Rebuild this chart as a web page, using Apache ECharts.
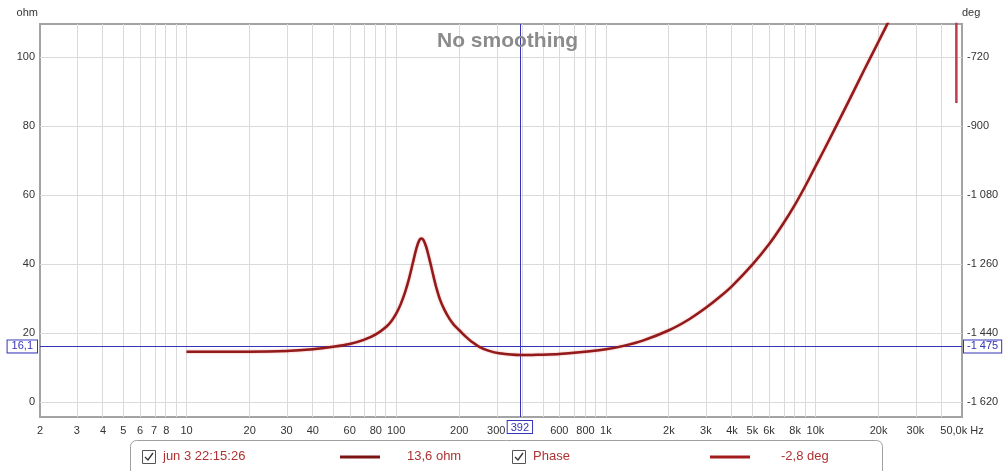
<!DOCTYPE html>
<html>
<head>
<meta charset="utf-8">
<script src="https://cdn.jsdelivr.net/npm/echarts@6/dist/echarts.min.js"></script>
<style>
  html, body { margin: 0; padding: 0; background: #fff; }
  #chart { width: 1008px; height: 471px; }
</style>
</head>
<body>
<div id="chart"></div>
<script>
// impedance sweep (Hz / ohm)
var freqHz = [10, 15, 20, 30, 40, 50, 60, 70, 80, 90, 95, 100, 105, 110, 115, 120, 125, 129, 132, 135, 139, 143, 147, 151, 155, 162, 170, 180, 189, 200, 216, 230, 249, 275, 310, 392, 481, 600, 750, 1000, 1200, 1500, 2000, 2500, 3000, 3500, 4000, 5000, 6000, 7000, 8000, 9000, 10000, 11000, 14000, 17000, 20000, 21500, 23000];
var ohm = [14.6, 14.6, 14.6, 14.8, 15.3, 16.0, 16.8, 18.0, 19.6, 21.9, 23.5, 25.6, 28.3, 31.6, 35.6, 40.2, 44.6, 46.9, 47.4, 46.9, 45.0, 42.2, 39.2, 36.2, 33.4, 29.6, 26.7, 24.0, 22.3, 20.8, 18.8, 17.4, 16.0, 14.9, 14.1, 13.6, 13.7, 13.9, 14.4, 15.3, 16.2, 17.8, 20.8, 24.0, 27.3, 30.5, 33.6, 39.8, 45.7, 51.6, 57.3, 62.9, 68.3, 73.1, 85.7, 96.0, 104.5, 108.3, 111.9];

// phase trace only shows as a wrap segment at the far right
var phaseHz = [47000, 47000];
var phaseDeg = [-560, -840];

// axes
var ohmTicks = [0, 20, 40, 60, 80, 100];
var degTicks = [-1620, -1440, -1260, -1080, -900, -720];
var labelHz = [2, 3, 4, 5, 6, 7, 8, 10, 20, 30, 40, 60, 80, 100, 200, 300, 600, 800, 1000, 2000, 3000, 4000, 5000, 6000, 8000, 10000, 20000, 30000, 50000];
var labelText = ['2', '3', '4', '5', '6', '7', '8', '10', '20', '30', '40', '60', '80', '100', '200', '300', '600', '800', '1k', '2k', '3k', '4k', '5k', '6k', '8k', '10k', '20k', '30k', '50,0k Hz'];
var gridHz = [];
[1, 10, 100, 1000, 10000].forEach(function (d) {
  for (var m = 1; m <= 9; m++) {
    var f = m * d;
    if (f > 2 && f < 50000) gridHz.push(f);
  }
});

// cursor
var cursorHz = 392, cursorOhm = 16.1, cursorDeg = -1475;

var ohmMin = -4.348, ohmMax = 109.565;
var degMin = -1620 + 9 * ohmMin, degMax = -1620 + 9 * ohmMax;

var font = "'Liberation Sans', Arial, sans-serif";
var blue = '#3434b8';

function lg(f) { return Math.log10(f); }

function fmtDeg(v) {
  v = Math.round(v);
  var s = String(Math.abs(v));
  if (s.length > 3) s = s.slice(0, s.length - 3) + ' ' + s.slice(-3);
  return (v < 0 ? '-' : '') + s;
}

var cursorLabel = {
  show: true,
  color: blue,
  backgroundColor: '#fff',
  borderColor: blue,
  borderWidth: 1,
  padding: [1, 3, 0, 3],
  fontSize: 11,
  fontFamily: font
};

// legend checkbox
function checkbox(x, y) {
  return [
    { type: 'rect', z: 11, shape: { x: x + 0.5, y: y + 0.5, width: 13, height: 13 }, style: { fill: '#fff', stroke: '#555', lineWidth: 1 } },
    { type: 'polyline', z: 12, shape: { points: [[x + 3, y + 7], [x + 6, y + 10], [x + 11, y + 3]] }, style: { stroke: '#333', lineWidth: 1.3, fill: null } }
  ];
}

var chart = echarts.init(document.getElementById('chart'));

chart.setOption({
  animation: false,
  title: {
    text: 'No smoothing',
    left: 432,
    top: 26,
    textStyle: { fontSize: 21, fontWeight: 'bold', color: '#8b8b8b', fontFamily: font }
  },
  grid: {
    left: 40, right: 46, top: 24, bottom: 54,
    show: true, borderColor: '#a3a3a3', borderWidth: 2, backgroundColor: '#fff'
  },
  xAxis: {
    type: 'value',
    min: lg(2),
    max: lg(50000),
    axisLine: { show: false },
    axisTick: { show: false },
    splitLine: { show: false },
    axisLabel: {
      customValues: labelHz.map(lg),
      margin: 8,
      color: '#333',
      fontSize: 11,
      fontFamily: font,
      formatter: function (v) {
        for (var i = 0; i < labelHz.length; i++) {
          if (Math.abs(lg(labelHz[i]) - v) < 1e-6) return labelText[i];
        }
        return '';
      }
    }
  },
  yAxis: [{
    type: 'value',
    min: ohmMin,
    max: ohmMax,
    name: 'ohm',
    nameGap: 6,
    nameTextStyle: { color: '#333', fontSize: 11, fontFamily: font, align: 'right', padding: [0, 2, 0, 0] },
    axisLine: { show: false },
    axisTick: { show: false },
    splitLine: { show: false },
    axisLabel: {
      customValues: ohmTicks,
      margin: 5,
      color: '#333',
      fontSize: 11,
      fontFamily: font
    }
  }, {
    type: 'value',
    position: 'right',
    min: degMin,
    max: degMax,
    name: 'deg',
    nameGap: 6,
    nameTextStyle: { color: '#333', fontSize: 11, fontFamily: font, align: 'left' },
    axisLine: { show: false },
    axisTick: { show: false },
    splitLine: { show: false },
    axisLabel: {
      customValues: degTicks,
      margin: 5,
      color: '#333',
      fontSize: 11,
      fontFamily: font,
      formatter: fmtDeg
    }
  }],
  series: [{
    // grid lines
    type: 'line',
    data: [],
    z: 1,
    silent: true,
    markLine: {
      silent: true,
      animation: false,
      symbol: ['none', 'none'],
      label: { show: false },
      emphasis: { disabled: true },
      lineStyle: { color: '#dadada', width: 1, type: 'solid' },
      data: gridHz.map(function (f) { return { xAxis: lg(f) }; })
        .concat(ohmTicks.map(function (v) { return { yAxis: v }; }))
    }
  }, {
    name: 'impedance',
    type: 'line',
    z: 5,
    showSymbol: false,
    smooth: 0.35,
    data: freqHz.map(function (f, i) { return [lg(f), ohm[i]]; }),
    lineStyle: { color: '#921a1a', width: 2.5, shadowColor: 'rgba(220,60,60,0.5)', shadowBlur: 2 },
    markLine: {
      silent: true,
      animation: false,
      symbol: ['none', 'none'],
      emphasis: { disabled: true },
      lineStyle: { color: blue, width: 1, type: 'solid' },
      data: [
        { xAxis: lg(cursorHz), label: Object.assign({}, cursorLabel, { position: 'start', distance: 4, formatter: String(cursorHz) }) },
        { yAxis: cursorOhm, label: Object.assign({}, cursorLabel, { position: 'start', distance: 3, padding: [1, 4, 0, 4], formatter: '16,1' }) }
      ]
    }
  }, {
    name: 'phase',
    type: 'line',
    yAxisIndex: 1,
    z: 5,
    showSymbol: false,
    data: phaseHz.map(function (f, i) { return [lg(f), phaseDeg[i]]; }),
    lineStyle: { color: '#c43c4c', width: 2.5 },
    markLine: {
      silent: true,
      animation: false,
      symbol: ['none', 'none'],
      emphasis: { disabled: true },
      lineStyle: { color: blue, width: 1, type: 'solid' },
      data: [
        { yAxis: cursorDeg, label: Object.assign({}, cursorLabel, { position: 'end', distance: 2, formatter: fmtDeg(cursorDeg) }) }
      ]
    }
  }],
  graphic: [{
    type: 'rect',
    shape: { x: 130.5, y: 440.5, width: 752, height: 44, r: 6 },
    style: { fill: '#fff', stroke: '#a0a0a0', lineWidth: 1 },
    z: 10
  }].concat(checkbox(142, 450), checkbox(512, 450), [{
    type: 'text', z: 11, x: 163, y: 450,
    style: { text: 'jun 3 22:15:26', fill: '#ad3333', font: '13px ' + font }
  }, {
    type: 'line', z: 11,
    shape: { x1: 340, y1: 457, x2: 380, y2: 457 },
    style: { stroke: '#7c1414', lineWidth: 3 }
  }, {
    type: 'text', z: 11, x: 407, y: 450,
    style: { text: '13,6 ohm', fill: '#ad3333', font: '13px ' + font }
  }, {
    type: 'text', z: 11, x: 533, y: 450,
    style: { text: 'Phase', fill: '#ad3333', font: '13px ' + font }
  }, {
    type: 'line', z: 11,
    shape: { x1: 710, y1: 457, x2: 750, y2: 457 },
    style: { stroke: '#a31c1c', lineWidth: 3 }
  }, {
    type: 'text', z: 11, x: 781, y: 450,
    style: { text: '-2,8 deg', fill: '#ad3333', font: '13px ' + font }
  }])
});
</script>
</body>
</html>
